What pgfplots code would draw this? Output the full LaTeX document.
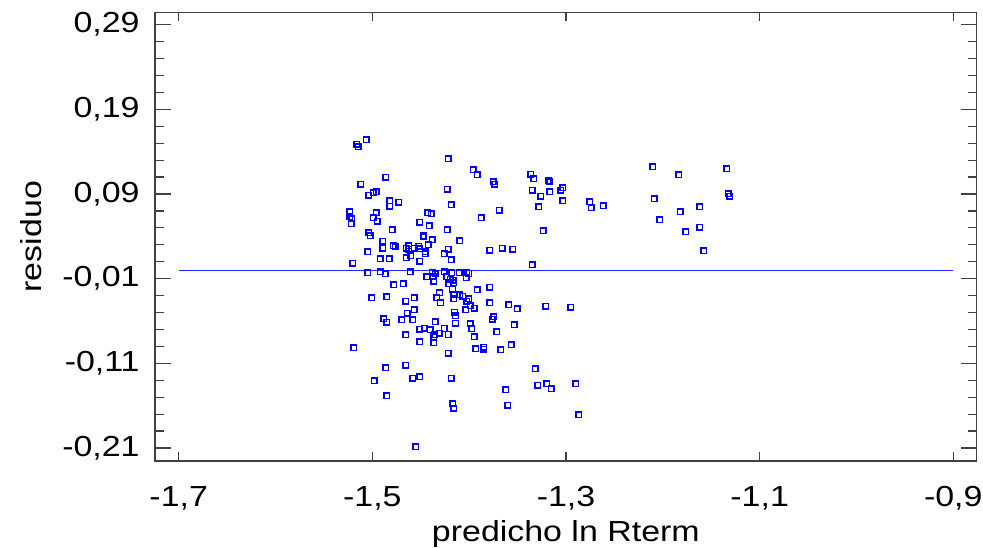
\documentclass[border=0pt]{standalone}
\usepackage{fontspec}
\setmainfont{Liberation Sans}[FakeStretch=1.17]
\usepackage{pgfplots}
\pgfplotsset{compat=1.18}
\newcommand\fs{\fontsize{14.5pt}{17pt}\selectfont}
\definecolor{axgray}{RGB}{64,64,64}
\begin{document}
\begin{tikzpicture}
\begin{axis}[
  width=410.85pt, height=224.35pt, scale only axis,
  xmin=-1.7245, xmax=-0.8758, ymin=-0.2254, ymax=0.3046,
  xtick=\empty,
  ytick={-0.21,-0.11,-0.01,0.09,0.19,0.29},
  minor y tick num=4,
  tick align=inside,
  major tick length=8pt, minor tick length=4.5pt,
  axis line style={axgray, line width=0.6pt},
  every tick/.style={axgray, line width=0.6pt},
  y tick label style={/pgf/number format/fixed, /pgf/number format/fixed zerofill,
    /pgf/number format/precision=2, /pgf/number format/use comma,
    /pgf/number format/assume math mode=true, font=\fs, inner sep=0pt, xshift=-7.5pt},
  ylabel={residuo},
  ylabel style={font=\fs, at={(axis description cs:0,0.5)}, anchor=center, inner sep=0pt, yshift=62pt},
]
\addplot[blue!85!white, line width=0.5pt] coordinates {(-1.7,0) (-0.9,0)};
\addplot[only marks, mark=square, mark size=1.4pt, blue, mark options={line width=0.7pt}] table {
x y
-1.5063 0.1542
-1.5162 0.1487
-1.5148 0.1459
-1.4216 0.1317
-1.4862 0.1097
-1.5120 0.1015
-1.4229 0.0956
-1.5035 0.0888
-1.4993 0.0916
-1.4962 0.0927
-1.4821 0.0818
-1.4821 0.0758
-1.4725 0.0802
-1.4185 0.0774
-1.5234 0.0691
-1.5231 0.0629
-1.5213 0.0608
-1.5218 0.0549
-1.4962 0.0676
-1.4993 0.0620
-1.4949 0.0581
-1.4429 0.0676
-1.4394 0.0664
-1.4511 0.0569
-1.4415 0.0526
-1.4794 0.0479
-1.4229 0.0479
-1.5038 0.0443
-1.5021 0.0408
-1.4477 0.0396
-1.4467 0.0404
-1.4893 0.0342
-1.4384 0.0357
-1.4425 0.0301
-1.4095 0.0345
-1.4784 0.0290
-1.4766 0.0278
-1.4893 0.0262
-1.4625 0.0290
-1.4650 0.0259
-1.4622 0.0247
-1.4522 0.0282
-1.4511 0.0254
-1.4567 0.0259
-1.4453 0.0219
-1.4453 0.0195
-1.4216 0.0247
-1.4257 0.0195
-1.5048 0.0219
-1.4604 0.0168
-1.4650 0.0148
-1.4921 0.0136
-1.4825 0.0136
-1.4511 0.0105
-1.4185 0.0124
-1.5203 0.0082
-1.5048 -0.0029
-1.4921 -0.0018
-1.4866 -0.0041
-1.4611 -0.0021
-1.4384 -0.0025
-1.4353 -0.0045
-1.4439 -0.0077
-1.4371 -0.0077
-1.4257 -0.0021
-1.4232 -0.0077
-1.4178 -0.0029
-1.4195 -0.0107
-1.4209 -0.0159
-1.4164 -0.0119
-1.4157 -0.0151
-1.4105 -0.0033
-1.4026 -0.0029
-1.4005 -0.0039
-1.4030 -0.0088
-1.4367 -0.0131
-1.4780 -0.0171
-1.4681 -0.0159
-1.4307 -0.0266
-1.4172 -0.0228
-1.4157 -0.0284
-1.4095 -0.0293
-1.4064 -0.0305
-1.4157 -0.0337
-1.5007 -0.0328
-1.4849 -0.0313
-1.4653 -0.0367
-1.4567 -0.0328
-1.4336 -0.0328
-1.4296 -0.0384
-1.4567 -0.0466
-1.4639 -0.0509
-1.4152 -0.0494
-1.4141 -0.0541
-1.4883 -0.0576
-1.4852 -0.0615
-1.4694 -0.0588
-1.4584 -0.0588
-1.4353 -0.0608
-1.4141 -0.0624
-1.4257 -0.0689
-1.4511 -0.0697
-1.4465 -0.0685
-1.4402 -0.0703
-1.4356 -0.0765
-1.4367 -0.0785
-1.4309 -0.0745
-1.4216 -0.0759
-1.4653 -0.0762
-1.4511 -0.0844
-1.4367 -0.0860
-1.5193 -0.0915
-1.4216 -0.0981
-1.4862 -0.1152
-1.4653 -0.1123
-1.4980 -0.1305
-1.4584 -0.1277
-1.4511 -0.1261
-1.4185 -0.1277
-1.4849 -0.1486
-1.4170 -0.1580
-1.4157 -0.1628
-1.4553 -0.2088
-1.3958 0.1184
-1.3916 0.1125
-1.3751 0.1045
-1.3734 0.1015
-1.3365 0.1136
-1.3334 0.1081
-1.3183 0.1057
-1.3166 0.1042
-1.3348 0.0944
-1.3166 0.0927
-1.3262 0.0873
-1.3055 0.0947
-1.3034 0.0971
-1.3034 0.0818
-1.3689 0.0708
-1.3875 0.0620
-1.3279 0.0747
-1.3235 0.0467
-1.3788 0.0235
-1.3661 0.0259
-1.3548 0.0247
-1.3348 0.0062
-1.3916 -0.0230
-1.3788 -0.0202
-1.4002 -0.0340
-1.4026 -0.0367
-1.3788 -0.0384
-1.3592 -0.0411
-1.3506 -0.0455
-1.3207 -0.0426
-1.2952 -0.0438
-1.3989 -0.0419
-1.3947 -0.0450
-1.4033 -0.0466
-1.3989 -0.0632
-1.3971 -0.0694
-1.3747 -0.0549
-1.3761 -0.0580
-1.3534 -0.0647
-1.3716 -0.0730
-1.3947 -0.0785
-1.3930 -0.0927
-1.3847 -0.0911
-1.3847 -0.0931
-1.3675 -0.0942
-1.3565 -0.0883
-1.3320 -0.1167
-1.3620 -0.1415
-1.3293 -0.1359
-1.3197 -0.1344
-1.3152 -0.1400
-1.2897 -0.1344
-1.3603 -0.1596
-1.2866 -0.1707
-1.2756 0.0806
-1.2739 0.0735
-1.2615 0.0762
-1.2102 0.1223
-1.1833 0.1125
-1.2088 0.0845
-1.2033 0.0593
-1.1820 0.0691
-1.1619 0.0747
-1.1619 0.0510
-1.1764 0.0455
-1.1578 0.0231
-1.1338 0.1196
-1.1324 0.0900
-1.1310 0.0873
};
\end{axis}
\begin{axis}[
  width=410.85pt, height=224.35pt, scale only axis,
  xmin=-1.7245, xmax=-0.8758, ymin=-0.2254, ymax=0.3046,
  ytick=\empty,
  xtick={-1.7,-1.5,-1.3,-1.1,-0.9},
  tick align=inside,
  major tick length=4.5pt,
  axis line style={axgray, line width=0.6pt},
  every tick/.style={axgray, line width=0.6pt},
  x tick label style={/pgf/number format/fixed, /pgf/number format/fixed zerofill,
    /pgf/number format/precision=1, /pgf/number format/use comma,
    /pgf/number format/assume math mode=true, font=\fs, inner sep=0pt, yshift=-12.5pt},
  xlabel={predicho ln Rterm},
  xlabel style={font=\fs, at={(axis description cs:0.5,0)}, anchor=center, inner sep=0pt, yshift=-36.5pt},
]
\end{axis}
\path (current axis.south west) ++(-77.5pt,-43pt) rectangle ++(491.5pt,273.5pt);
\end{tikzpicture}
\end{document}
